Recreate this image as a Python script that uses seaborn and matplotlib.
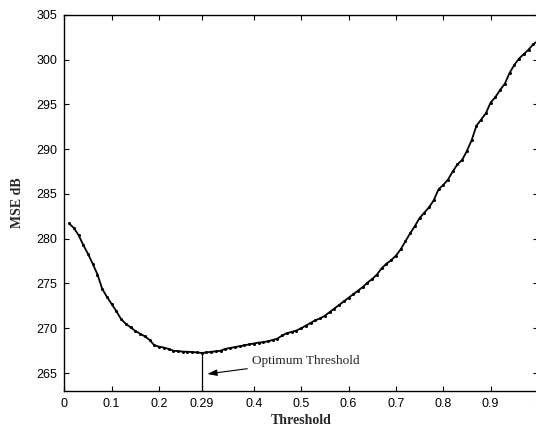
import numpy as np
import pandas as pd
import matplotlib
matplotlib.use("Agg")
import matplotlib.pyplot as plt
import seaborn as sns

threshold = [0.01, 0.02, 0.03, 0.04, 0.05, 0.06, 0.07, 0.08, 0.09, 0.10,
             0.11, 0.12, 0.13, 0.14, 0.15, 0.16, 0.17, 0.18, 0.19, 0.20,
             0.21, 0.22, 0.23, 0.24, 0.25, 0.26, 0.27, 0.28, 0.29, 0.30,
             0.31, 0.32, 0.33, 0.34, 0.35, 0.36, 0.37, 0.38, 0.39, 0.40,
             0.41, 0.42, 0.43, 0.44, 0.45, 0.46, 0.47, 0.48, 0.49, 0.50,
             0.51, 0.52, 0.53, 0.54, 0.55, 0.56, 0.57, 0.58, 0.59, 0.60,
             0.61, 0.62, 0.63, 0.64, 0.65, 0.66, 0.67, 0.68, 0.69, 0.70,
             0.71, 0.72, 0.73, 0.74, 0.75, 0.76, 0.77, 0.78, 0.79, 0.80,
             0.81, 0.82, 0.83, 0.84, 0.85, 0.86, 0.87, 0.88, 0.89, 0.90,
             0.91, 0.92, 0.93, 0.94, 0.95, 0.96, 0.97, 0.98, 0.99, 1.00]

mse_db = [281.7, 281.2, 280.4, 279.3, 278.3, 277.2, 276.0, 274.4, 273.5, 272.7,
          271.9, 271.0, 270.5, 270.1, 269.7, 269.4, 269.1, 268.7, 268.1, 267.95,
          267.85, 267.7, 267.5, 267.45, 267.4, 267.38, 267.35, 267.3, 267.25, 267.3,
          267.38, 267.42, 267.5, 267.7, 267.8, 267.9, 268.0, 268.1, 268.2, 268.3,
          268.4, 268.45, 268.55, 268.7, 268.85, 269.2, 269.45, 269.6, 269.75, 270.0,
          270.3, 270.6, 270.9, 271.1, 271.4, 271.8, 272.2, 272.6, 273.0, 273.4,
          273.8, 274.2, 274.6, 275.1, 275.5, 276.0, 276.7, 277.2, 277.6, 278.1,
          278.8, 279.7, 280.6, 281.4, 282.3, 282.9, 283.5, 284.3, 285.5, 286.0,
          286.6, 287.5, 288.3, 288.8, 289.8, 291.0, 292.6, 293.3, 294.0, 295.2,
          295.8, 296.6, 297.3, 298.5, 299.4, 300.1, 300.6, 301.1, 301.7, 302.1]

x_ticks = [0, 0.1, 0.2, 0.29, 0.4, 0.5, 0.6, 0.7, 0.8, 0.9, 1.0]
x_tick_labels = ["0", "0.1", "0.2", "0.29", "0.4", "0.5", "0.6", "0.7", "0.8", "0.9", "1"]
y_ticks = [265, 270, 275, 280, 285, 290, 295, 300, 305]
opt_x = 0.29
opt_y = 267.25
annot_text = "Optimum Threshold"

df = pd.DataFrame({"Threshold": threshold, "MSE": mse_db})

sns.set_style("ticks")
plt.rcParams["font.family"] = ["Liberation Sans", "DejaVu Sans"]
plt.rcParams["xtick.direction"] = "in"
plt.rcParams["ytick.direction"] = "in"

fig = plt.figure(figsize=(5.36, 4.30), dpi=100)
ax = fig.add_axes([0.12, 0.0907, 0.8837, 0.8751])

sns.lineplot(data=df, x="Threshold", y="MSE", ax=ax, color="black",
             linewidth=1.3, marker="o", markersize=2.2, markeredgewidth=0)

ax.set_xlim(0, 1)
ax.set_ylim(263, 305)
ax.set_xticks(x_ticks)
ax.set_xticklabels(x_tick_labels)
ax.set_yticks(y_ticks)
ax.tick_params(axis="both", which="both", direction="in", length=3.5, width=0.8,
               labelsize=9, top=True, right=True, colors="black", pad=5)
for s in ax.spines.values():
    s.set_linewidth(1.0)
    s.set_color("black")
    s.set_visible(True)

ax.vlines(opt_x, 263, opt_y, color="black", linewidth=0.9)
ax.annotate(annot_text, xy=(0.302, 264.9), xytext=(0.396, 266.35),
            fontsize=9.5, family=["Liberation Serif", "DejaVu Serif"],
            va="center", ha="left",
            arrowprops=dict(arrowstyle="-|>,head_length=0.6,head_width=0.2",
                            color="black", lw=0.8, shrinkA=1, shrinkB=0))

ax.set_xlabel("Threshold", fontsize=10, fontweight="bold",
              family=["Liberation Serif", "DejaVu Serif"], labelpad=3)
ax.set_ylabel("MSE dB", fontsize=10, fontweight="bold",
              family=["Liberation Serif", "DejaVu Serif"], labelpad=9)

fig.savefig("out.png", dpi=100)
